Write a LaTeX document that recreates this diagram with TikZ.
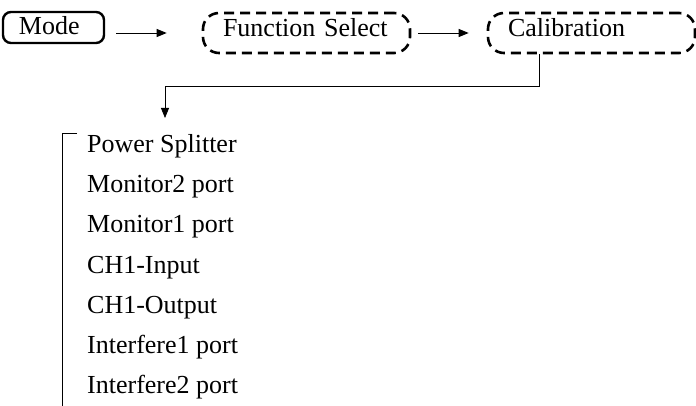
\documentclass[tikz,border=0pt]{standalone}
\usepackage{fontspec}
\setmainfont{Liberation Serif}
\usetikzlibrary{arrows.meta, positioning}

\begin{document}
\begin{tikzpicture}[
    x=1pt, y=-1pt,
    font=\fontsize{26}{30}\selectfont,
    modebox/.style={draw, line width=2.4pt, rounded corners=8pt, inner xsep=16pt, inner ysep=0pt,
        text width=69pt, align=left, minimum height=31pt, text height=18pt, text depth=4pt},
    menubox/.style={draw, line width=2.6pt, dash pattern=on 10pt off 6pt, rounded corners=16pt,
        inner xsep=20pt, inner ysep=0pt, text width=167pt, align=left, minimum height=40pt,
        text height=18pt, text depth=10pt},
    arr/.style={-{Triangle[length=10pt, width=8pt]}, line width=0.9pt},
    entry/.style={anchor=base west, inner sep=0pt},
]
\useasboundingbox (0,0) rectangle (696,406);

% --- top row: Mode -> Function Select -> Calibration ---
\node[modebox] (mode) at (53.5, 27.5) {Mode};
\node[menubox] (fsel) at (306.5, 33) {Function Select};
\node[menubox] (calib) at (591.5, 33) {Calibration};

\draw[arr, shorten <=11pt, shorten >=35pt] (mode.east |- fsel.west) -- (fsel.west);
\draw[arr, shorten <=7pt, shorten >=18pt] (fsel.east) -- (calib.west);

% --- drop down to the list ---
\coordinate (drop) at (165, 118);
\draw[arr, line width=0.8pt] ([xshift=-52.5pt]calib.south) |- (drop |- 0,86) -- (drop);

% --- list of calibration items ---
\foreach \txt [count=\i] in {Power Splitter, Monitor2 port, Monitor1 port, CH1-Input,
    CH1-Output, Interfere1 port, Interfere2 port}
  \node[entry] (item\i) at (87, 113 + 40*\i) {\txt};

% bracket on the left
\draw[line width=0.9pt] (77, 133) -- (62, 133) -- (62, 406);

\end{tikzpicture}
\end{document}
